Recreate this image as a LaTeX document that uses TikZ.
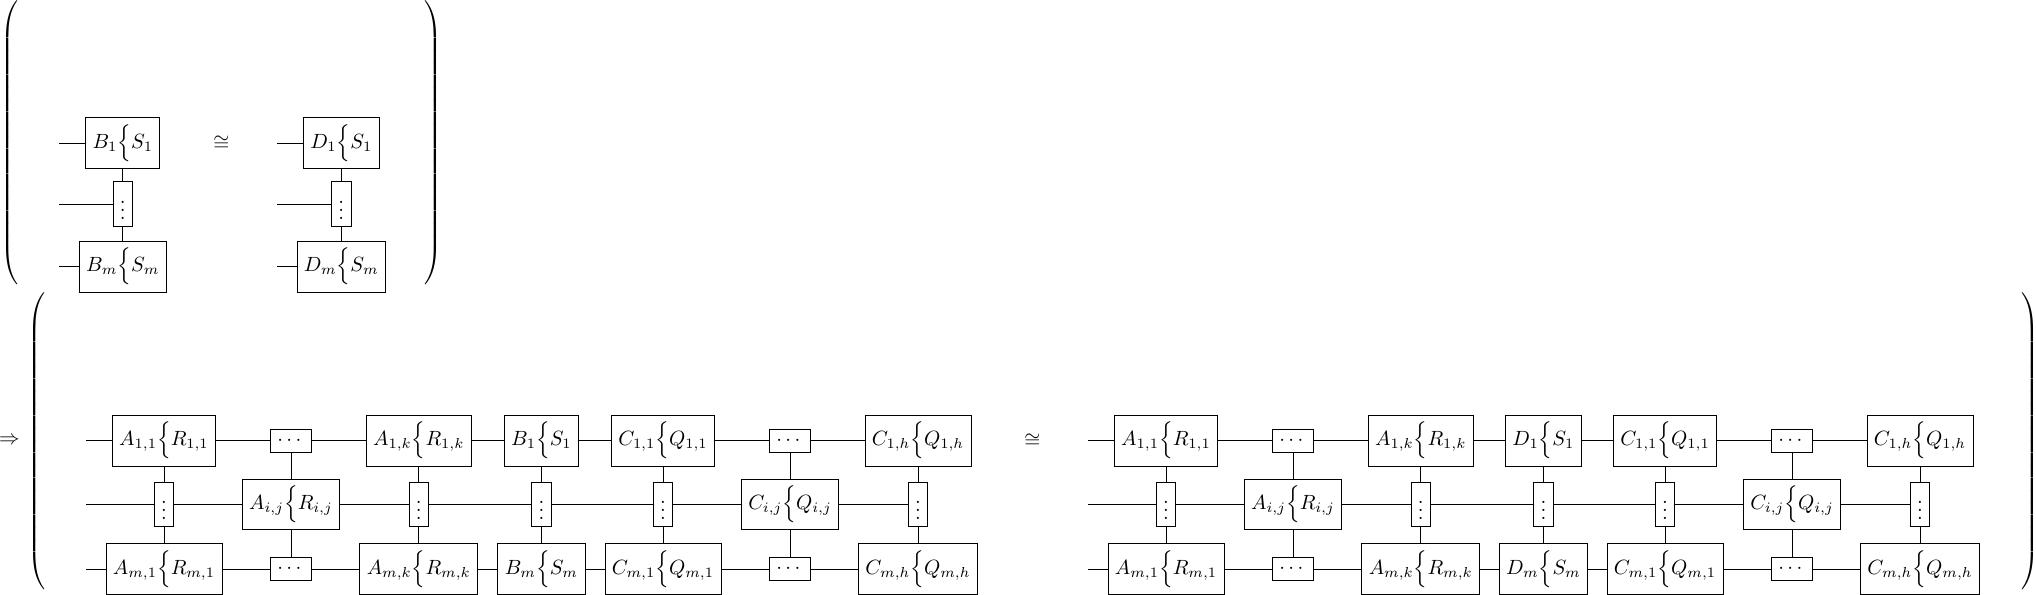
\documentclass[tikz,border=0pt]{standalone}
\usepackage{amsmath,amsfonts}
\usepackage{tikz}

\tikzset{gate/.style={draw}, bracket/.style={inner sep=0pt}}

\begin{document}
\begin{tikzpicture}
\useasboundingbox (0,0) rectangle (34.74,10.152);
% upper line
\node[bracket] (lpa) at (0.188,7.71) {$\left(\vcenter to 143pt{}\right.$};
\node[bracket] (rpa) at (7.380,7.71) {$\left.\vcenter to 143pt{}\right)$};
\coordinate (sb1) at (1.007,7.707);
\coordinate (sb2) at (1.007,6.667);
\coordinate (sb3) at (1.007,5.602);
\node[gate] (b1) at (2.095,7.707) {$B_1\Big\{S_1$};
\node[gate] (bv) at (2.095,6.667) {$\vdots$};
\node[gate] (bm) at (2.095,5.602) {$B_m\Big\{S_m$};
\draw (sb1) -- (b1);
\draw (sb2) -- (bv);
\draw (sb3) -- (bm);
\draw (b1) -- (bv) -- (bm);
\node (iso1) at (3.776,7.707) {$\cong$};
\coordinate (sd1) at (4.732,7.707);
\coordinate (sd2) at (4.732,6.667);
\coordinate (sd3) at (4.732,5.602);
\node[gate] (d1) at (5.824,7.707) {$D_1\Big\{S_1$};
\node[gate] (dv) at (5.824,6.667) {$\vdots$};
\node[gate] (dm) at (5.824,5.602) {$D_m\Big\{S_m$};
\draw (sd1) -- (d1);
\draw (sd2) -- (dv);
\draw (sd3) -- (dm);
\draw (d1) -- (dv) -- (dm);

% lower line
\node[bracket] (imp) at (0.162,2.633) {$\Rightarrow$};
\node[bracket] (lpb) at (0.640,2.628) {$\left(\vcenter to 149pt{}\right.$};
\node[bracket] (rpb) at (34.621,2.628) {$\left.\vcenter to 149pt{}\right)$};

% left side
\coordinate (s1) at (1.467,2.633);
\coordinate (s2) at (1.467,1.544);
\coordinate (s3) at (1.467,0.439);
\node[gate] (a11) at (2.798,2.633) {$A_{1,1}\Big\{R_{1,1}$};
\node[gate] (av1) at (2.798,1.544) {$\vdots$};
\node[gate] (am1) at (2.798,0.439) {$A_{m,1}\Big\{R_{m,1}$};
\node[gate] (e1) at (4.965,2.633) {$\cdots$};
\node[gate] (aij) at (4.965,1.544) {$A_{i,j}\Big\{R_{i,j}$};
\node[gate] (e3) at (4.965,0.439) {$\cdots$};
\node[gate] (a1k) at (7.146,2.633) {$A_{1,k}\Big\{R_{1,k}$};
\node[gate] (av2) at (7.146,1.544) {$\vdots$};
\node[gate] (amk) at (7.146,0.439) {$A_{m,k}\Big\{R_{m,k}$};
\node[gate] (bb1) at (9.238,2.633) {$B_1\Big\{S_1$};
\node[gate] (bbv) at (9.238,1.544) {$\vdots$};
\node[gate] (bbm) at (9.238,0.439) {$B_m\Big\{S_m$};
\node[gate] (c11) at (11.313,2.633) {$C_{1,1}\Big\{Q_{1,1}$};
\node[gate] (cv1) at (11.313,1.544) {$\vdots$};
\node[gate] (cm1) at (11.313,0.439) {$C_{m,1}\Big\{Q_{m,1}$};
\node[gate] (e2) at (13.480,2.633) {$\cdots$};
\node[gate] (cij) at (13.480,1.544) {$C_{i,j}\Big\{Q_{i,j}$};
\node[gate] (e4) at (13.480,0.439) {$\cdots$};
\node[gate] (c1h) at (15.664,2.633) {$C_{1,h}\Big\{Q_{1,h}$};
\node[gate] (cv2) at (15.664,1.544) {$\vdots$};
\node[gate] (cmh) at (15.664,0.439) {$C_{m,h}\Big\{Q_{m,h}$};
\draw (s1) -- (a11) -- (e1) -- (a1k) -- (bb1) -- (c11) -- (e2) -- (c1h);
\draw (s2) -- (av1) -- (aij) -- (av2) -- (bbv) -- (cv1) -- (cij) -- (cv2);
\draw (s3) -- (am1) -- (e3) -- (amk) -- (bbm) -- (cm1) -- (e4) -- (cmh);
\draw (a11) -- (av1) -- (am1);
\draw (e1) -- (aij) -- (e3);
\draw (a1k) -- (av2) -- (amk);
\draw (bb1) -- (bbv) -- (bbm);
\draw (c11) -- (cv1) -- (cm1);
\draw (e2) -- (cij) -- (e4);
\draw (c1h) -- (cv2) -- (cmh);

\node (iso2) at (17.614,2.633) {$\cong$};

% right side
\coordinate (t1) at (18.565,2.633);
\coordinate (t2) at (18.565,1.544);
\coordinate (t3) at (18.565,0.439);
\node[gate] (ra11) at (19.895,2.633) {$A_{1,1}\Big\{R_{1,1}$};
\node[gate] (rav1) at (19.895,1.544) {$\vdots$};
\node[gate] (ram1) at (19.895,0.439) {$A_{m,1}\Big\{R_{m,1}$};
\node[gate] (re1) at (22.062,2.633) {$\cdots$};
\node[gate] (raij) at (22.062,1.544) {$A_{i,j}\Big\{R_{i,j}$};
\node[gate] (re3) at (22.062,0.439) {$\cdots$};
\node[gate] (ra1k) at (24.243,2.633) {$A_{1,k}\Big\{R_{1,k}$};
\node[gate] (rav2) at (24.243,1.544) {$\vdots$};
\node[gate] (ramk) at (24.243,0.439) {$A_{m,k}\Big\{R_{m,k}$};
\node[gate] (dd1) at (26.335,2.633) {$D_1\Big\{S_1$};
\node[gate] (ddv) at (26.335,1.544) {$\vdots$};
\node[gate] (ddm) at (26.335,0.439) {$D_m\Big\{S_m$};
\node[gate] (rc11) at (28.410,2.633) {$C_{1,1}\Big\{Q_{1,1}$};
\node[gate] (rcv1) at (28.410,1.544) {$\vdots$};
\node[gate] (rcm1) at (28.410,0.439) {$C_{m,1}\Big\{Q_{m,1}$};
\node[gate] (re2) at (30.577,2.633) {$\cdots$};
\node[gate] (rcij) at (30.577,1.544) {$C_{i,j}\Big\{Q_{i,j}$};
\node[gate] (re4) at (30.577,0.439) {$\cdots$};
\node[gate] (rc1h) at (32.761,2.633) {$C_{1,h}\Big\{Q_{1,h}$};
\node[gate] (rcv2) at (32.761,1.544) {$\vdots$};
\node[gate] (rcmh) at (32.761,0.439) {$C_{m,h}\Big\{Q_{m,h}$};
\draw (t1) -- (ra11) -- (re1) -- (ra1k) -- (dd1) -- (rc11) -- (re2) -- (rc1h);
\draw (t2) -- (rav1) -- (raij) -- (rav2) -- (ddv) -- (rcv1) -- (rcij) -- (rcv2);
\draw (t3) -- (ram1) -- (re3) -- (ramk) -- (ddm) -- (rcm1) -- (re4) -- (rcmh);
\draw (ra11) -- (rav1) -- (ram1);
\draw (re1) -- (raij) -- (re3);
\draw (ra1k) -- (rav2) -- (ramk);
\draw (dd1) -- (ddv) -- (ddm);
\draw (rc11) -- (rcv1) -- (rcm1);
\draw (re2) -- (rcij) -- (re4);
\draw (rc1h) -- (rcv2) -- (rcmh);
\end{tikzpicture}
\end{document}
